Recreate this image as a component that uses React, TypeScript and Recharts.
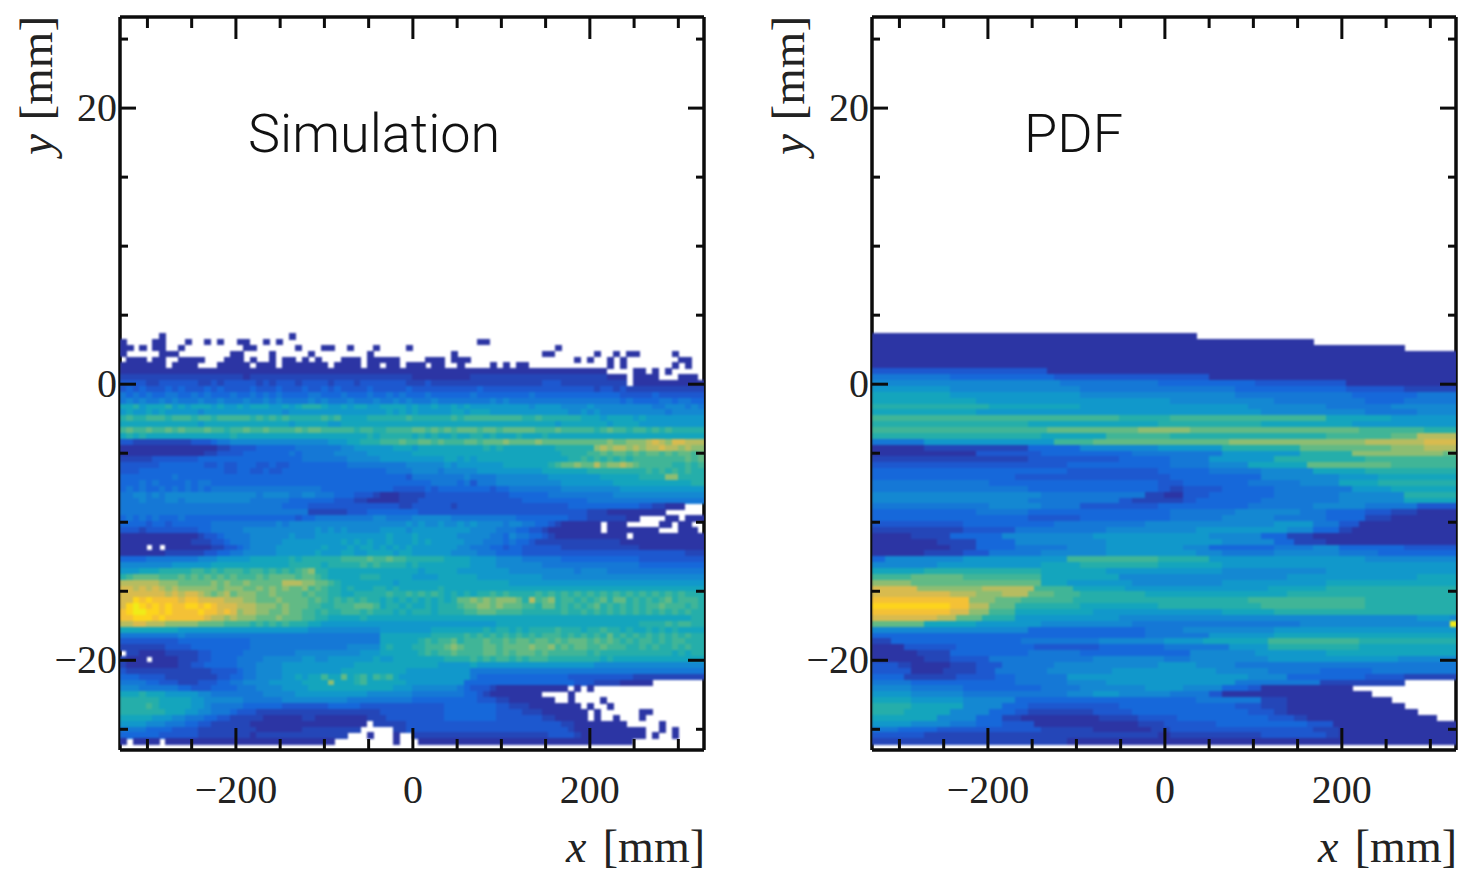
import React from 'react';
import { ScatterChart, Scatter, XAxis, YAxis } from 'recharts';

// colour of each count level, lowest first (level 0 = empty bin)
const levelColors = [
  'none', '#2c35a4', '#2446b8', '#1d58cf', '#1668da', '#1578d6', '#1488d2', '#1198cb', '#14a5bd',
  '#25aeaa', '#40b597', '#62ba85', '#8dbd72', '#b6bc60', '#d8bb4f', '#f4c136', '#fdd41c', '#f0ec18',
];

const xMajorTicks = [-200, 0, 200];
const xMinorTicks = [-300, -250, -150, -100, -50, 50, 100, 150, 250, 300];
const yMajorTicks = [20, 0, -20];
const yMinorTicks = [25, 15, 10, 5, -5, -10, -15, -25];

const X_DOMAIN: [number, number] = [-331, 329];
const Y_DOMAIN: [number, number] = [-26.5, 26.6];
const X_BINS = 90;
const Y_TOP = 3.7;
const Y_BIN = 0.4254;

// one string per y bin, top to bottom, one level character per x bin
const simulationRows = [
  '0000001000 0000000000 0000001000 0000000000 0000000000 0000000000 0000000000 0000000000 0000000000',
  '1000011000 1001010011 0010100000 0000000000 0000000000 0000011000 0000000000 0000000000 0000000000',
  '1101011001 0000000001 1000000100 0110010001 0000100000 0000000000 0000000100 0000000000 0000000000',
  '1000001110 0000000110 0001000001 0000000010 0000000000 0100000000 0000011000 0001001011 0000010000',
  '0111011001 1110001110 1001011010 1000111011 1110000111 0111000000 0000000000 1010010100 0000001100',
  '1111111011 1100011111 0111011111 1101111011 0110111011 0010000101 0110000000 0000010100 0000010100',
  '1111111111 1111111111 1111111111 1111111111 1111111111 1111111111 1111111111 1111100001 1010100000',
  '2222222222 2222222221 2222222222 2222222222 2222211111 1111222222 2222222222 2222211101 1110001110',
  '3333223333 3322323333 3232333233 3323332333 3333222322 2222222222 2222233322 2222222201 1111111111',
  '3434333434 3334343333 4333433343 3434333343 3333433333 3333343333 3333333333 3332332322 2222222222',
  '5454544554 4545444544 5454544445 5444544454 4545444544 4444544444 4445444444 4444444333 3343333333',
  '5656556565 5565565556 5565655556 5655565556 5565655565 5555555656 5555555555 5555555454 4445545544',
  '8897888978 7888787787 8887787899 9877878877 8888787787 7878777777 7776777766 6676666666 6655666565',
  '7877878777 7767777777 7777767777 7777777777 7878787777 7887888777 7777777776 6767666666 6666566666',
  '9a99aaa9aa a9aa9aaaaa 9a9a9a9999 9a9a888899 9999a99999 9a9aaaaaaa aa99a99999 9888788887 8777777777',
  '8888888888 8878888888 8888887888 8877888888 8888888888 8888888888 8888888788 8888878888 7777777777',
  'abaabaabab aaabaa9aab aabaaaabab baaaaa9aa9 9aaaabbaba babbbabbab bbbbaaabaa aaa9abaa9a a9a9a99999',
  '8989888888 8888888988 8888888888 8888888898 9999989898 8988998988 8988898888 8888888888 8888888888',
  '3322222222 2333455666 6666666666 6677788999 aaabaabbab aaabbabbbc bbbbcbbbbb bbbbbcbbcc cdedceeddd',
  '1111111111 1111122333 3444444555 5555667777 7788878888 8888889898 8888888999 999cdcddcd cddeddcdcc',
  '1111111111 1112233334 4444445455 5556666677 7777788888 8888888888 8888888899 99aababbab abbababbab',
  '2222233333 3344444444 4444444455 5555566666 7777777777 8878788888 8888888889 9a9a9a9a9a aaaaaaabab',
  '3333334444 4443343344 4334334444 4444455555 5555666666 7677777778 8888889abb cbbdbccdcb aaaaa99a9a',
  '3334444444 4444443344 3343344444 4444444444 4555566665 6666677777 7777788888 8899999999 9a9a9a9a99',
  '4444444454 4444444444 4444444444 4444444444 4444355555 5556555566 6666667777 7777888888 9999cc9999',
  '4445454444 5455444444 4444444444 4444444444 4444444455 5545355566 6666666677 7777778888 8888888899',
  '4545445454 5454555555 5555555555 5444444444 4433333434 4444444344 5555555566 6666666777 7777777777',
  '5566565666 6666666666 6566665566 5554443332 1112222333 3333333333 4444445555 5555556666 6666666666',
  '5556555665 6666666666 5555554444 4443332211 1112223333 3333333333 3344444444 4455555555 5555555555',
  '5555555555 5555555555 5555544443 3333333333 3332233333 3233333333 3333333334 4444444444 3322111000',
  '5555555555 5555555555 5555555552 2222233344 4444443333 3333333333 3333333333 3322211111 1111000000',
  '4545454445 4444444444 4444444344 5555555556 6555566666 6555555555 5444444443 3322222211 0000110111',
  '4444344344 4444555555 5555656666 6666666666 6666767667 6676766665 6655443211 1111011100 0001101100',
  '3332333333 3344555556 6666666666 7676766666 7777677777 7777666655 5443321111 1111011111 1110001110',
  '1111111111 1123345555 6666667666 7777777777 7877787777 7766666554 6554432111 1111111101 1111111111',
  '1111111111 1222334555 6666677777 7777878787 7877787877 7776665554 5443222222 2222222111 1111111111',
  '1111010111 1111223345 6666777777 7877787887 8787877777 7766555443 4433333322 2222222222 1111111111',
  '1111111222 2223344556 6666777777 8777887788 8878877777 7666655544 4433333333 3333333333 3333333222',
  '4444555555 5566677777 8888889899 9999aaaaba abaa999999 8888777766 6655555544 4444444444 3333333333',
  '6666666677 7777888888 8888889999 9899999a9a 9999898888 8888777766 6666655555 5555555555 4444444444',
  '7778889999 9aa9a9aaa9 aa9a9a9abc 9988888888 8888887888 8877777777 6666666666 5666655555 5555555555',
  '9abbbbaaab ababababaa ababbbbabb a988888999 8888877778 8888877777 7777766666 6666666666 6666666666',
  'ddddddcccb bbbbcbcbbc bbbbbdddcc bba9888888 8878888888 8888888888 7777777777 7777777777 7777777777',
  'eedededcdc cccccbcccb bcbcbcbbca ba99898889 9898888889 8888888888 8888888888 8888888888 8888888888',
  'eeeeeeeded eedcbcdbcc cbbcbbbbab aa99889999 9a99a9a9a9 8989899a9a 9999a9a9a9 a9a9a9a9a9 a9a9a9a999',
  'eegfgffffe ffeeeedddc cbbbcbbbba ba9a9a9a99 8989898989 89bbcbcbcc cb9dabc9aa 9a9ab9bb9a 9a9ab9aaa9',
  'eghgfgfgff ggfgfeeedd dcccbcbbba a99aaabbba 8998988989 99abbccbcb bbaa9bb9a9 a9ab9a9a9a 9aabaaa9a9',
  'fghhggfgff ffgffefecd dccbbcbbaa 9a99aaa9a9 9989899989 999aabbbaa aa999999a9 9a9a9a9a9a 9a9a9a9a99',
  'ffgggfgfff fffeddcdcc cbbbcbbbaa 9988888988 8888888888 8888888888 8888888888 8888888888 8888888899',
  'ddeedddccc ccbbbbaaaa 9a9a9a9998 8777777777 7777777777 7777777788 8888888888 8888888888 9999a9aa99',
  '8888888887 7777777777 7777777776 6666666666 7777777788 8888889899 8989999a99 9899a99898 8989898888',
  '5555555556 5555555555 5555555555 5555555555 8888888899 999a9a9a9a 9a9a9aaa9a 9a9a9b9a9a 9a9a9a9a99',
  '3333333334 4444444444 5555555555 5555555555 8888889a9a ab9aaabaab abbabbabab bbababa9a9 aa9a9aa999',
  '2222222333 3444444444 5555555555 5555566666 8988899aaa bcbaaabbab bbbcbbcaba bbaabaaa99 a9a99a9a99',
  '0221111222 2233444445 5555555666 6666666777 8888889a9a abaaaabbab abbbabaaaa aa9a999999 9999989899',
  '2111011112 2233444455 5566666677 6677777778 7788888888 9999a9a9aa 9a9aaa9999 9999898888 8888888888',
  '2111111112 2334444455 5666677777 7777778888 8888888887 7777877777 7777777777 7776666666 6666666666',
  '3222222222 2222333345 5666677777 7777888888 8888777777 7777555555 5555555555 5555555555 5555555555',
  '4443333222 2222233445 5666677878 8a88b89a8a 9a87777777 7777544444 4444444443 3333333332 2222222222',
  '5555443332 2233344556 6667777788 88c8889a88 8888777777 7774444444 4444444444 3332222111 1100000000',
  '6665555554 4333444455 5666677778 8888888888 8877766666 6654333211 1111111110 1010000000 0000000000',
  '8889888777 7766555555 5566666777 7777777766 6666655555 5554432111 1111100001 0000000000 0000000000',
  '9999998888 8776666665 5555566666 6666655555 5555544444 4444433322 1111111001 0000100000 0000000000',
  '9999a98888 8776555554 4444433333 3344444333 3333333333 4444444433 2221111111 1010010000 0000000000',
  '9999999888 7766555433 3222222222 2222222222 3333333333 4444444433 3322211111 1101000000 1100000000',
  '8888877766 5554433222 2211111122 1111111122 2333333333 4444444433 3333322111 1101001000 1000000000',
  '7777666555 4433222222 1111111111 1111111102 2222333333 3333333333 3333333322 1111111100 0001000000',
  '5555444433 3322222222 2111111122 2222222000 0022333333 3333333333 3333333332 1111111111 1001010000',
  '4444443333 3322222222 1222222222 2222200010 0010022222 2222222222 2222223333 2111111111 1010010000',
  '1011110111 1111111111 1111111111 1110000000 0010001111 1111111111 1111111111 1111111110 0000000000',
];

// same bins, written as runs: level x count
const pdfRows = [
  '1x50 0x40',
  '1x68 0x22',
  '1x82 0x8',
  '1x90',
  '1x90',
  '1x90',
  '3x27 1x63',
  '5x12 4x16 3x24 1x38',
  '6x29 5x15 4x15 3x14 1x17',
  '7x12 6x20 5x24 4x17 3x9 2x8',
  '8x12 7x20 6x24 5x18 4x10 5x6',
  '8x16 7x30 6x16 5x14 4x6 5x8',
  '9x18 8x14 7x26 6x12 5x10 6x10',
  '8x16 7x44 6x16 5x8 6x6',
  'ax38 9x8 ax24 8x10 7x10',
  '9x24 8x20 9x16 8x14 7x16',
  'ax27 bx14 cx8 bx26 ax10 9x5',
  '9x26 8x10 ax10 9x24 ax10 bx4 dx6',
  '5x8 7x20 ax6 bx8 bx13 cx21 dx9 ex5',
  '1x8 2x16 4x8 6x12 7x10 9x12 bx14 cx5 dx5',
  '1x16 3x10 4x14 5x14 7x12 9x8 cx14 bx2',
  '2x24 3x14 4x8 5x6 7x10 9x14 ax14',
  '3x30 4x16 5x6 6x6 8x9 bx13 ax10',
  '4x30 3x14 4x8 5x8 6x8 8x8 9x14',
  '4x22 3x24 4x14 6x12 7x6 8x12',
  '5x18 4x26 3x4 4x10 5x8 6x6 8x6 9x12',
  '5x24 4x20 3x2 2x2 3x6 4x8 5x12 7x6 8x10',
  '6x26 5x16 2x3 1x3 3x4 4x10 5x10 6x10 9x8',
  '6x24 5x14 3x2 2x8 3x2 4x10 5x12 6x10 8x8',
  '5x18 6x8 5x6 3x12 4x14 5x10 6x8 5x8 3x6',
  '4x16 5x8 4x22 5x10 6x10 5x4 4x6 3x4 2x4 1x6',
  '4x24 3x8 4x14 5x8 6x8 5x8 4x6 2x4 1x10',
  '3x14 4x14 5x14 6x20 7x6 5x4 3x3 1x15',
  '2x14 3x8 5x14 6x14 7x14 6x4 4x4 2x2 1x16',
  '1x6 2x6 4x8 6x14 7x18 6x8 4x4 2x4 1x22',
  '1x10 2x6 4x6 6x14 7x18 6x8 4x3 2x5 1x20',
  '1x12 2x4 4x6 5x8 6x6 7x12 6x4 4x10 5x6 6x4 4x10 3x8',
  '1x8 2x6 3x4 5x8 6x10 7x14 6x4 5x8 6x10 5x6 4x12',
  '4x2 6x12 7x16 ax14 9x8 7x24 6x14',
  '6x10 7x16 8x6 9x12 8x10 7x36',
  '8x8 9x18 8x10 7x18 6x16 7x20',
  'ax6 bx8 ax12 8x12 6x26 7x20 8x6',
  'cx6 bx20 8x4 7x10 6x14 7x16 8x20',
  'ex7 cx10 dx8 ax6 8x8 7x22 8x9 9x20',
  'ex12 dx4 cx4 dx4 bx4 ax4 9x10 8x22 9x26',
  'fx15 cx4 bx4 ax8 9x22 9x5 ax18 9x14',
  'gx12 fx3 dx3 bx4 9x10 8x12 9x8 9x8 ax16 9x14',
  'fx12 ex3 cx3 ax4 8x12 7x20 8x8 9x14 9x14',
  'ex10 dx3 bx4 9x5 7x16 6x46 7x5 6x1',
  'bx8 8x8 7x10 6x14 5x26 6x23 hx1',
  '6x24 4x18 5x6 6x14 7x28',
  '4x42 5x10 7x10 8x28',
  '2x3 4x20 5x12 6x10 7x6 8x10 ax14 9x15',
  '1x5 3x8 4x12 3x10 4x10 5x10 7x6 9x14 8x15',
  '1x7 2x5 4x12 5x8 4x17 6x10 7x11 8x20',
  '1x8 2x4 3x6 5x16 6x11 5x4 6x12 7x20 6x9',
  '3x4 2x2 1x6 2x4 3x4 5x8 6x16 7x6 6x6 5x34',
  '3x6 1x5 2x5 3x3 5x8 6x10 7x16 6x8 5x8 4x8 5x13',
  '4x5 2x8 3x6 4x3 5x8 7x28 6x6 4x12 3x6 2x8',
  '5x6 4x16 5x8 6x6 7x20 5x13 2x13 0x8',
  '6x6 5x8 4x12 5x6 6x10 7x6 6x6 4x4 3x2 1x14 0x16',
  '7x6 6x8 5x16 6x4 7x4 6x8 5x6 3x2 1x23 0x13',
  '8x6 7x8 6x8 4x28 5x10 2x4 1x16 0x10',
  '9x6 8x8 6x6 4x4 3x14 4x18 3x4 2x4 1x18 0x8',
  '9x5 8x7 6x6 4x4 3x2 2x10 3x6 4x18 3x4 2x2 1x20 0x6',
  '8x10 6x6 4x4 2x3 1x12 2x6 3x6 4x14 3x4 2x2 1x20 0x3',
  '7x6 6x6 5x4 4x4 3x5 1x16 2x4 3x8 4x14 3x4 1x19',
  '5x4 4x6 3x16 2x8 1x9 2x3 3x22 2x4 1x18',
  '3x8 2x36 1x2 2x14 3x10 2x2 1x18',
  '2x30 1x60',
];

const expandRuns = (row: string) =>
  row.split(' ').map((run) => {
    const [level, count] = run.split('x');
    return level.repeat(Number(count));
  }).join('');

const toCells = (rows: string[]) =>
  rows.flatMap((row, i) =>
    row.replace(/ /g, '').split('').map((c, j) => ({
      x: X_DOMAIN[0] + ((j + 0.5) * (X_DOMAIN[1] - X_DOMAIN[0])) / X_BINS,
      y: Y_TOP - (i + 0.5) * Y_BIN,
      level: parseInt(c, 18),
    }))
  ).filter((cell) => cell.level > 0);

const simulationCells = toCells(simulationRows);
const pdfCells = toCells(pdfRows.map(expandRuns));

const CHART_W = 710;
const CHART_H = 872;
const PLOT_W = 584;
const PLOT_H = 733;
const CELL_W = PLOT_W / X_BINS;
const CELL_H = (PLOT_H / (Y_DOMAIN[1] - Y_DOMAIN[0])) * Y_BIN;

const SERIF = '"Liberation Serif", "DejaVu Serif", serif';
const INK = '#0c0c0c';

function CellShape(props: any) {
  const { cx, cy, payload } = props;
  return (
    <rect
      x={cx - CELL_W / 2}
      y={cy - CELL_H / 2}
      width={CELL_W + 0.6}
      height={CELL_H + 0.6}
      fill={levelColors[payload.level]}
      shapeRendering="crispEdges"
    />
  );
}

// the top and right axes only need a series to stay visible
const NoMark = () => null;

const fmt = (v: number) => (v < 0 ? `\u2212${-v}` : `${v}`);

function BottomTick({ x, y, payload }: any) {
  const major = xMajorTicks.includes(payload.value);
  return (
    <g>
      <line x1={x} x2={x} y1={y} y2={y - (major ? 22 : 11)} stroke={INK} strokeWidth={3} />
      {major && (
        <text x={x} y={y + 53} textAnchor="middle" fontFamily={SERIF} fontSize={40} fill="#222">
          {fmt(payload.value)}
        </text>
      )}
    </g>
  );
}

function TopTick({ x, y, payload }: any) {
  const major = xMajorTicks.includes(payload.value);
  return <line x1={x} x2={x} y1={y} y2={y + (major ? 22 : 11)} stroke={INK} strokeWidth={3} />;
}

function LeftTick({ x, y, payload }: any) {
  const major = yMajorTicks.includes(payload.value);
  return (
    <g>
      <line x1={x} x2={x + (major ? 16 : 8)} y1={y} y2={y} stroke={INK} strokeWidth={3} />
      {major && (
        <text x={x - 3} y={y + 13} textAnchor="end" fontFamily={SERIF} fontSize={40} fill="#222">
          {fmt(payload.value)}
        </text>
      )}
    </g>
  );
}

function RightTick({ x, y, payload }: any) {
  const major = yMajorTicks.includes(payload.value);
  return <line x1={x} x2={x - (major ? 16 : 8)} y1={y} y2={y} stroke={INK} strokeWidth={3} />;
}

const axisLine = { stroke: INK, strokeWidth: 3.5 };
const xTicks = [...xMajorTicks, ...xMinorTicks].sort((a, b) => a - b);
const yTicks = [...yMajorTicks, ...yMinorTicks].sort((a, b) => a - b);

function Panel({ cells, title, titleX, left }: { cells: any[]; title: string; titleX: number; left: number }) {
  return (
    <div style={{ position: 'absolute', left, top: 0 }}>
      <ScatterChart width={CHART_W} height={CHART_H} margin={{ top: 16, right: 5, bottom: 0, left: 0 }}>
        <XAxis xAxisId="bottom" orientation="bottom" type="number" dataKey="x" domain={X_DOMAIN} ticks={xTicks}
          height={122} interval={0} tickLine={false} tickSize={0} tickMargin={0} axisLine={axisLine} tick={BottomTick} allowDataOverflow />
        <XAxis xAxisId="top" orientation="top" type="number" dataKey="x" domain={X_DOMAIN} ticks={xTicks}
          height={1} interval={0} tickLine={false} tickSize={0} tickMargin={0} axisLine={axisLine} tick={TopTick} allowDataOverflow />
        <YAxis yAxisId="left" orientation="left" type="number" dataKey="y" domain={Y_DOMAIN} ticks={yTicks}
          width={120} interval={0} tickLine={false} tickSize={0} tickMargin={0} axisLine={axisLine} tick={LeftTick} allowDataOverflow />
        <YAxis yAxisId="right" orientation="right" type="number" dataKey="y" domain={Y_DOMAIN} ticks={yTicks}
          width={1} interval={0} tickLine={false} tickSize={0} tickMargin={0} axisLine={axisLine} tick={RightTick} allowDataOverflow />
        <Scatter className="cells" data={cells} xAxisId="bottom" yAxisId="left" shape={CellShape} isAnimationActive={false} />
        <Scatter data={cells.slice(0, 1)} xAxisId="top" yAxisId="right" shape={NoMark} isAnimationActive={false} />
        <text x={titleX} y={152} fontFamily="Roboto, sans-serif" fontWeight={300} fontSize={54} fill="#111">{title}</text>
        <text x={705} y={862} textAnchor="end" fontFamily={SERIF} fontSize={46} wordSpacing={5} fill="#222">
          <tspan fontStyle="italic">x</tspan> [mm]
        </text>
        <text x={52} y={155} transform="rotate(-90 52 155)" fontFamily={SERIF} fontSize={47} wordSpacing={2} fill="#222">
          <tspan fontStyle="italic">y</tspan> [mm]
        </text>
      </ScatterChart>
    </div>
  );
}

export default function App() {
  return (
    <div style={{ position: 'absolute', left: 0, top: 0, width: 1462, height: 872, overflow: 'hidden', background: '#fff' }}>
      <style>{'.cells { filter: blur(0.9px); }'}</style>
      <Panel cells={simulationCells} title="Simulation" titleX={248} left={0} />
      <Panel cells={pdfCells} title="PDF" titleX={272} left={752} />
    </div>
  );
}
